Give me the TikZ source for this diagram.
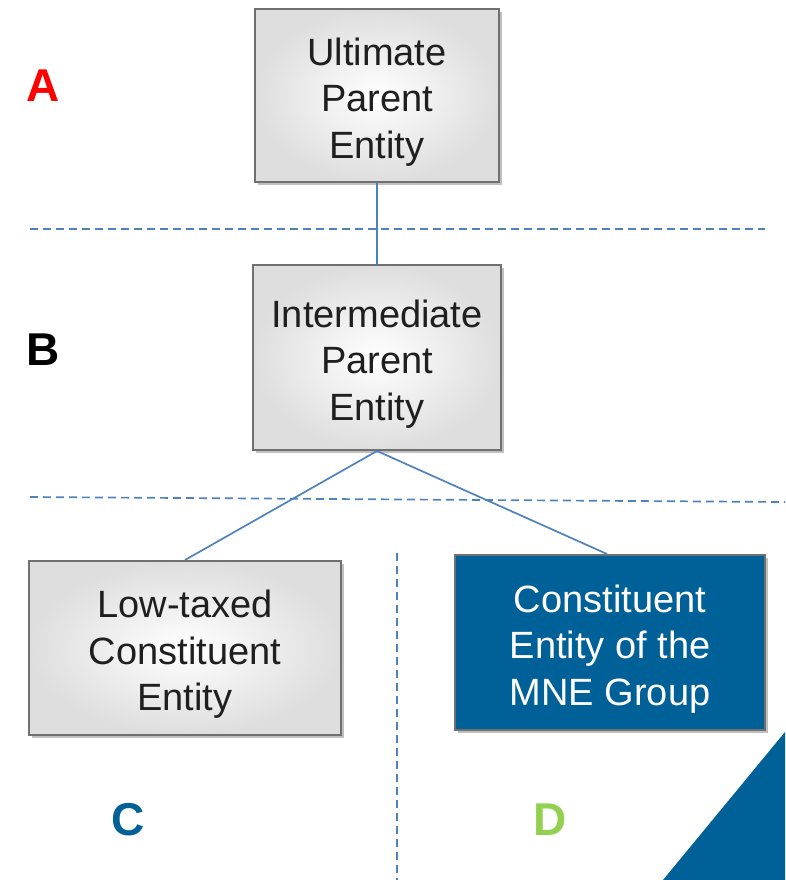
\documentclass[tikz,border=0pt]{standalone}
\usepackage{fontspec}
\setmainfont{Liberation Sans}
\usetikzlibrary{shadows}
\definecolor{linkblue}{RGB}{79,129,189}
\definecolor{boxblue}{RGB}{0,96,152}
\definecolor{boxedge}{RGB}{112,112,112}
\definecolor{lblC}{RGB}{0,96,152}
\definecolor{lblD}{RGB}{146,208,80}
\newcommand\entstrut{\rule{0pt}{40pt}}
\tikzset{
  entity/.style={draw=boxedge, line width=2pt, align=center, inner sep=0pt,
    font=\fontsize{38}{46.5}\selectfont,
    drop shadow={shadow xshift=2.5pt, shadow yshift=-3pt, opacity=0.25, fill=black}},
  greybox/.style={entity, inner color=white, outer color=black!13, text=black!88},
  bluebox/.style={entity, fill=boxblue, text=white},
  link/.style={draw=linkblue, line width=1.7pt},
  divider/.style={draw=linkblue, line width=1.7pt, dash pattern=on 8pt off 5pt},
  zone/.style={font=\fontsize{46}{50}\selectfont\bfseries}
}
\begin{document}
\begin{tikzpicture}[x=1pt,y=-1pt]
\useasboundingbox (0,0) rectangle (785,880);
% corner triangle
\fill[boxblue] (785,732) -- (663,880) -- (785,880) -- cycle;
% dividers
\coordinate (d1a) at (30,229);
\coordinate (d1b) at (765,229);
\coordinate (d2a) at (30,497);
\coordinate (d2b) at (785,502);
\coordinate (d3a) at (397,553);
\coordinate (d3b) at (397,880);
\draw[divider] (d1a) -- (d1b);
\draw[divider] (d2a) -- (d2b);
\draw[divider] (d3a) -- (d3b);
% boxes
\node[greybox, minimum width=244pt, minimum height=173pt] (upe) at (377,95.5)
  {\entstrut Ultimate\\Parent\\Entity};
\node[greybox, minimum width=248pt, minimum height=185pt] (ipe) at (377,357.5)
  {\entstrut Intermediate\\Parent\\Entity};
\node[greybox, minimum width=312pt, minimum height=174pt] (ltce) at (185,648)
  {\entstrut Low-taxed\\Constituent\\Entity};
\node[bluebox, minimum width=310pt, minimum height=175pt] (ce) at (610,642.5)
  {\entstrut Constituent\\Entity of the\\MNE Group};
% connectors
\draw[link] (upe.south) -- (ipe.north);
\draw[link] (ipe.south) -- (ltce.north);
\draw[link] (ipe.south) -- ([xshift=-3pt]ce.north);
% zone labels
\node[zone, text=red] (la) at (43,86) {A};
\node[zone, text=black] (lb) at (43,350) {B};
\node[zone, text=lblC] (lc) at (128,820) {C};
\node[zone, text=lblD] (ld) at (550,820) {D};
\end{tikzpicture}
\end{document}
